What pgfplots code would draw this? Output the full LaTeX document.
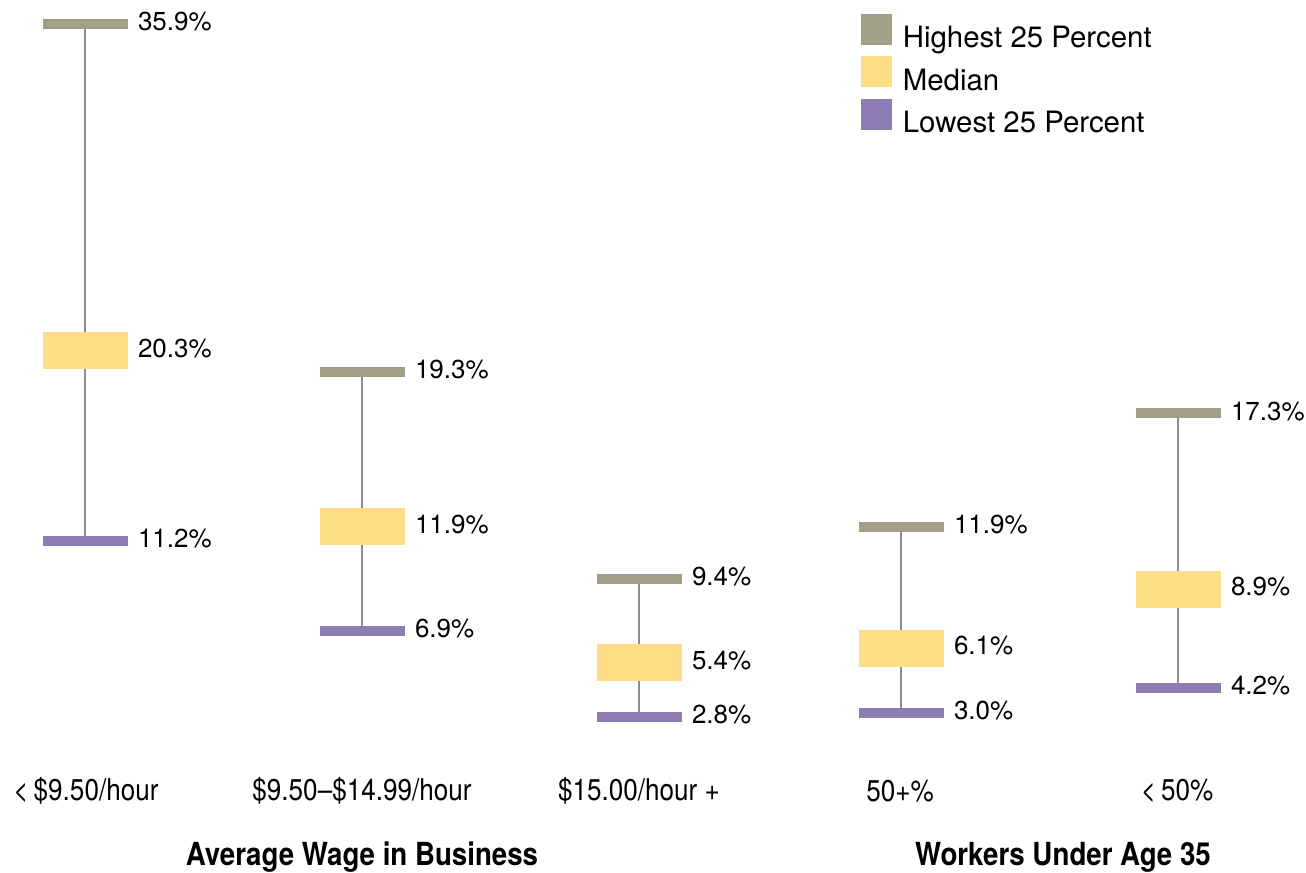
\documentclass[border=0pt]{standalone}
\usepackage{pgfplots}
\pgfplotsset{compat=1.18}
\usepackage{fontspec}
\setmainfont{TeX Gyre Heros}
\newfontfamily\condfont[FakeStretch=0.87]{TeX Gyre Heros}
\definecolor{highc}{HTML}{A19F87}
\definecolor{medc}{HTML}{FEDD87}
\definecolor{lowc}{HTML}{8E7DB2}
\definecolor{whisk}{HTML}{8D8C93}
\begin{document}
\begin{tikzpicture}
\begin{axis}[
  scale only axis, width=653pt, height=436pt,
  xmin=0, xmax=1306, ymin=-4.597, ymax=37.046,
  hide axis, clip=false,
  /pgf/number format/assume math mode=true,
  legend style={at={(rel axis cs:0.6593,0.9840)}, anchor=north west,
    draw=none, fill=none, inner sep=0pt, outer sep=0pt,
    row sep=1.15pt, column sep=5.5pt,
    font=\fontsize{14.7}{16}\selectfont,
    nodes={inner sep=0pt, outer sep=0pt, text height=11pt, text depth=3pt}},
  legend cell align=left,
  nodes near coords={\pgfmathprintnumber[fixed,fixed zerofill,precision=1]{\pgfplotspointmeta}\%},
  every node near coord/.append style={anchor=west, xshift=26.5pt, yshift=1.2pt, inner sep=0pt, outer sep=0pt,
    font=\fontsize{13}{15}\selectfont, text=black},
]
\path (rel axis cs:0,0) rectangle (rel axis cs:1,1);
% whiskers
\addplot[forget plot, whisk, line width=1.4pt, no marks, nodes near coords={}] coordinates {(85,11.2) (85,35.9)};
\addplot[forget plot, whisk, line width=1.4pt, no marks, nodes near coords={}] coordinates {(362,6.9) (362,19.3)};
\addplot[forget plot, whisk, line width=1.4pt, no marks, nodes near coords={}] coordinates {(639,2.8) (639,9.4)};
\addplot[forget plot, whisk, line width=1.4pt, no marks, nodes near coords={}] coordinates {(901,3.0) (901,11.9)};
\addplot[forget plot, whisk, line width=1.4pt, no marks, nodes near coords={}] coordinates {(1178,4.2) (1178,17.3)};
% high
\addplot[only marks, mark=-, mark size=21.25pt, mark options={line width=5pt, draw=highc},
  legend image code/.code={\fill[highc] (0pt,-2.2pt) rectangle (15pt,12.8pt);}]
  coordinates {(85,35.9) (362,19.3) (639,9.4) (901,11.9) (1178,17.3)};
\addlegendentry{Highest 25 Percent}
% median
\addplot[only marks, mark=-, mark size=21.25pt, mark options={line width=18.5pt, draw=medc},
  legend image code/.code={\fill[medc] (0pt,-2.2pt) rectangle (15pt,12.8pt);}]
  coordinates {(85,20.3) (362,11.9) (639,5.4) (901,6.1) (1178,8.9)};
\addlegendentry{Median}
% low
\addplot[only marks, mark=-, mark size=21.25pt, mark options={line width=5pt, draw=lowc},
  legend image code/.code={\fill[lowc] (0pt,-2.2pt) rectangle (15pt,12.8pt);}]
  coordinates {(85,11.2) (362,6.9) (639,2.8) (901,3.0) (1178,4.2)};
\addlegendentry{Lowest 25 Percent}
% category labels
\begin{scope}[every node/.style={font=\condfont\fontsize{15}{17}\selectfont, inner sep=0pt}]
\node at (axis cs:86,-0.72) {<\,\$9.50/hour};
\node at (axis cs:362,-0.72) {\$9.50–\$14.99/hour};
\node at (axis cs:639,-0.72) {\$15.00/hour +};
\node at (axis cs:900,-0.72) {50+\%};
\node at (axis cs:1177,-0.72) {<\,50\%};
\end{scope}
\begin{scope}[every node/.style={font=\condfont\bfseries\fontsize{15.9}{17}\selectfont, inner sep=0pt}]
\node at (axis cs:362,-3.9) {Average Wage in Business};
\node at (axis cs:1063,-3.9) {Workers Under Age 35};
\end{scope}
\end{axis}
\end{tikzpicture}
\end{document}
